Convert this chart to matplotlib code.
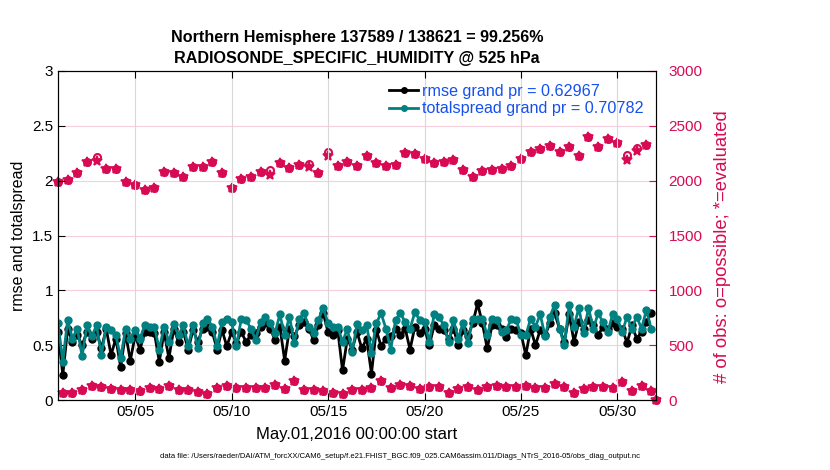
import numpy as np
import pandas as pd
import matplotlib
matplotlib.use('Agg')
import matplotlib.pyplot as plt
import matplotlib.dates as mdates
from matplotlib.lines import Line2D

plt.rcParams['font.family'] = ['Liberation Sans', 'DejaVu Sans']

# 6-hourly bins, 2016-05-01 00Z .. 2016-06-01 00Z
start = '2016-05-01 00:00'
nbins = 125

# rmse and totalspread, one value per bin (last bin empty)
rmse = [0.62, 0.23, 0.65, 0.53, 0.59, 0.50, 0.62, 0.56, 0.62, 0.47,
        0.65, 0.41, 0.56, 0.30, 0.61, 0.36, 0.59, 0.46, 0.62, 0.62,
        0.61, 0.35, 0.62, 0.38, 0.65, 0.53, 0.62, 0.46, 0.64, 0.53,
        0.65, 0.67, 0.62, 0.46, 0.64, 0.49, 0.62, 0.52, 0.62, 0.53,
        0.59, 0.61, 0.67, 0.70, 0.65, 0.55, 0.67, 0.36, 0.65, 0.58,
        0.68, 0.71, 0.65, 0.55, 0.68, 0.79, 0.62, 0.59, 0.64, 0.27,
        0.56, 0.46, 0.62, 0.47, 0.56, 0.24, 0.64, 0.49, 0.56, 0.58,
        0.65, 0.59, 0.65, 0.46, 0.67, 0.61, 0.65, 0.50, 0.68, 0.65,
        0.64, 0.56, 0.65, 0.50, 0.64, 0.58, 0.70, 0.88, 0.70, 0.47,
        0.68, 0.68, 0.65, 0.57, 0.65, 0.64, 0.61, 0.41, 0.65, 0.50,
        0.64, 0.59, 0.70, 0.79, 0.65, 0.53, 0.78, 0.53, 0.71, 0.65,
        0.73, 0.68, 0.59, 0.67, 0.65, 0.70, 0.67, 0.65, 0.52, 0.68,
        0.56, 0.62, 0.71, 0.79, np.nan]
spread = [0.70, 0.35, 0.73, 0.56, 0.65, 0.40, 0.68, 0.58, 0.68, 0.41,
          0.67, 0.64, 0.59, 0.38, 0.65, 0.56, 0.64, 0.56, 0.68, 0.67,
          0.67, 0.46, 0.67, 0.53, 0.69, 0.59, 0.68, 0.49, 0.68, 0.47,
          0.70, 0.74, 0.67, 0.49, 0.71, 0.74, 0.71, 0.49, 0.74, 0.73,
          0.65, 0.55, 0.71, 0.76, 0.70, 0.61, 0.78, 0.59, 0.76, 0.52,
          0.74, 0.79, 0.67, 0.61, 0.73, 0.84, 0.70, 0.67, 0.67, 0.53,
          0.65, 0.44, 0.69, 0.64, 0.68, 0.43, 0.70, 0.79, 0.65, 0.46,
          0.73, 0.79, 0.71, 0.65, 0.80, 0.73, 0.71, 0.53, 0.78, 0.76,
          0.68, 0.53, 0.73, 0.56, 0.70, 0.52, 0.74, 0.74, 0.74, 0.59,
          0.74, 0.73, 0.62, 0.64, 0.74, 0.73, 0.59, 0.59, 0.74, 0.67,
          0.78, 0.58, 0.76, 0.87, 0.65, 0.50, 0.87, 0.67, 0.84, 0.61,
          0.84, 0.65, 0.79, 0.71, 0.62, 0.78, 0.74, 0.62, 0.76, 0.65,
          0.76, 0.65, 0.82, 0.65, np.nan]

# observation counts: 00Z/12Z bins and 06Z/18Z bins
poss_main = [1991, 2006, 2073, 2168, 2219, 2107, 2107, 1991, 1961, 1915,
             1936, 2076, 2067, 2036, 2122, 2122, 2173, 2073, 1930, 2013,
             2036, 2082, 2098, 2164, 2113, 2146, 2152, 2067, 2265, 2134,
             2168, 2134, 2225, 2158, 2134, 2143, 2250, 2244, 2198, 2158,
             2173, 2189, 2098, 2031, 2091, 2098, 2104, 2134, 2198, 2259,
             2286, 2316, 2265, 2310, 2225, 2396, 2304, 2380, 2341, 2230,
             2300, 2326, 0]
used_main = [1991, 2006, 2073, 2168, 2183, 2107, 2107, 1991, 1961, 1915,
             1936, 2076, 2067, 2036, 2122, 2122, 2173, 2073, 1930, 2013,
             2036, 2082, 2052, 2164, 2113, 2146, 2122, 2067, 2225, 2134,
             2168, 2134, 2225, 2158, 2134, 2143, 2250, 2244, 2198, 2158,
             2173, 2189, 2098, 2031, 2091, 2098, 2104, 2134, 2198, 2259,
             2286, 2316, 2265, 2310, 2225, 2396, 2304, 2380, 2341, 2189,
             2274, 2326, 0]
poss_off = [67, 67, 91, 128, 122, 100, 91, 91, 82, 106,
            100, 131, 91, 91, 76, 52, 106, 128, 106, 106,
            112, 106, 137, 97, 173, 91, 91, 82, 67, 52,
            91, 91, 106, 176, 106, 137, 131, 97, 122, 115,
            67, 100, 122, 91, 122, 128, 122, 122, 128, 106,
            106, 146, 115, 61, 97, 122, 115, 106, 161, 82,
            128, 82]
used_off = [67, 67, 91, 128, 122, 100, 91, 91, 82, 106,
            100, 131, 91, 91, 76, 52, 106, 128, 106, 106,
            112, 106, 137, 97, 173, 91, 91, 82, 67, 52,
            91, 91, 106, 176, 106, 137, 131, 97, 122, 115,
            67, 100, 122, 91, 122, 128, 122, 122, 128, 106,
            106, 146, 115, 61, 97, 122, 115, 106, 161, 82,
            128, 82]

title_lines = ['Northern Hemisphere 137589 / 138621 = 99.256%',
               'RADIOSONDE_SPECIFIC_HUMIDITY @ 525 hPa']
legend_labels = ['rmse grand pr = 0.62967', 'totalspread grand pr = 0.70782']
data_file = ('data file: /Users/raeder/DAI/ATM_forcXX/CAM6_setup/'
             'f.e21.FHIST_BGC.f09_025.CAM6assim.011/Diags_NTrS_2016-05/obs_diag_output.nc')

times = pd.date_range(start, periods=nbins, freq='6h')
poss = np.zeros(nbins)
used = np.zeros(nbins)
poss[0::2] = poss_main
poss[1::2] = poss_off
used[0::2] = used_main
used[1::2] = used_off

pink = '#D70A53'
teal = '#008080'
blue = '#1450F0'

fig = plt.figure(figsize=(8.3, 4.7), dpi=100)
ax = fig.add_axes([58/830, 1-400/470, (656-58)/830, (400-71)/470])
ax2 = ax.twinx()
ax.set_zorder(ax2.get_zorder() + 1)
ax.patch.set_visible(False)

# obs counts on right axis
ax2.plot(times, poss, 'o', color=pink, ms=5, mfc='none', mew=1.5, clip_on=False)
ax2.plot(times, used, '*', color=pink, ms=7.5, mew=1.2, clip_on=False)
ax2.set_ylim(0, 3000)
ax2.set_yticks(np.arange(0, 3001, 500))
ax2.tick_params(axis='y', colors=pink, direction='in', labelsize=11, length=5, pad=9)
ax2.spines['right'].set_color(pink)
ax2.set_ylabel('# of obs: o=possible; *=evaluated', color=pink, fontsize=13.3)
ax2.yaxis.set_label_coords(1.097, 0.465)
ax2.yaxis.grid(True, color=pink, alpha=0.2, lw=0.8)

# rmse / spread on left axis
ax.plot(times, rmse, '-o', color='k', lw=2, ms=5)
ax.plot(times, spread, '-o', color=teal, lw=2, ms=5)
ax.set_ylim(0, 3)
ax.set_yticks(np.arange(0, 3.01, 0.5))
ax.set_yticklabels(['0', '0.5', '1', '1.5', '2', '2.5', '3'])
ax.set_xlim(pd.Timestamp('2016-05-01 00:00'), pd.Timestamp('2016-06-01 00:00'))
ax.xaxis.set_major_locator(mdates.DayLocator(bymonthday=[5, 10, 15, 20, 25, 30]))
ax.xaxis.set_major_formatter(mdates.DateFormatter('%m/%d'))
ax.tick_params(axis='both', direction='in', labelsize=11, length=5, top=True)
ax.xaxis.grid(True, color='#d8d8d8', lw=0.8)
ax.set_ylabel('rmse and totalspread', fontsize=11.5)
ax.set_xlabel('May.01,2016 00:00:00 start', fontsize=12, labelpad=6)
ax.set_title('\n'.join(title_lines), fontsize=11.6, fontweight='bold', pad=6,
             linespacing=1.45)

handles = [Line2D([], [], color='k', lw=2, marker='o', ms=4),
           Line2D([], [], color=teal, lw=2, marker='o', ms=4)]
leg = ax.legend(handles, legend_labels, loc='upper right', frameon=False,
                fontsize=11.6, handlelength=1.85, handletextpad=0.2, labelspacing=0.15,
                bbox_to_anchor=(0.995, 0.99), borderaxespad=0.2)
for t in leg.get_texts():
    t.set_color(blue)

fig.text(0.482, 0.025, data_file, fontsize=5.5, ha='center')

fig.savefig('out.png', dpi=100)
